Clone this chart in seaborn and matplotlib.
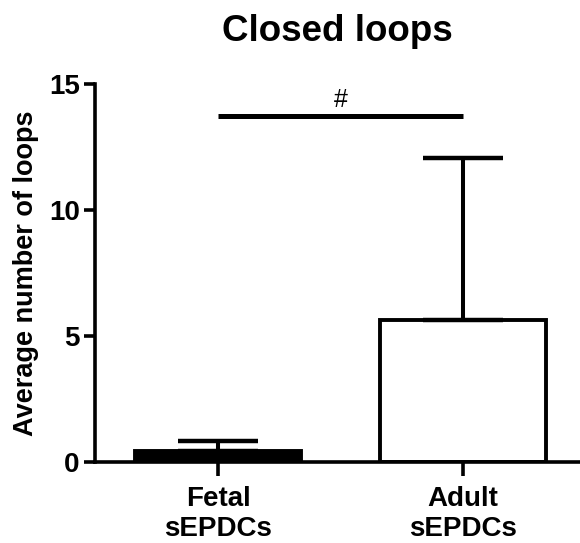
import matplotlib
matplotlib.use("Agg")
import matplotlib.pyplot as plt
import seaborn as sns
import pandas as pd

# values
groups = ["Fetal\nsEPDCs", "Adult\nsEPDCs"]
means = [0.42, 5.65]
errors = [0.4, 6.4]
bar_colors = ["black", "white"]
sig_height = 13.75
sig_label = "#"

df = pd.DataFrame({"group": groups, "mean": means})

sns.set_style("ticks", rc={"text.color": "black", "axes.labelcolor": "black",
                           "xtick.color": "black", "ytick.color": "black",
                           "axes.edgecolor": "black"})
plt.rcParams["font.family"] = ["Liberation Sans", "DejaVu Sans"]

fig = plt.figure(figsize=(5.8, 5.43), dpi=100)
ax = fig.add_axes([0.1638, 0.1492, 0.8362, 0.6961])

sns.barplot(data=df, x="group", y="mean", hue="group", palette=bar_colors,
            edgecolor="black", linewidth=2.8, width=0.68, errorbar=None,
            legend=False, ax=ax)

# upper-only error bars
ax.errorbar(range(len(groups)), means, yerr=[[0] * len(errors), errors],
            fmt="none", ecolor="black", elinewidth=2.9, capsize=29,
            capthick=3.2, zorder=3)

# significance bar
ax.plot([0, 1], [sig_height, sig_height], color="black", lw=3.6,
        solid_capstyle="butt")
ax.text(0.5, sig_height + 0.12, sig_label, ha="center", va="bottom",
        fontsize=18)

ax.set_xlim(-0.505, 1.48)
ax.set_ylim(0, 15)
ax.set_yticks([0, 5, 10, 15])
ax.set_xlabel("")
ax.set_ylabel("Average number of loops", fontsize=19.5, fontweight="bold",
              labelpad=7)
ax.set_title("Closed loops", fontsize=26.5, fontweight="bold", pad=31)

for lab in ax.get_xticklabels() + ax.get_yticklabels():
    lab.set_fontweight("bold")
    lab.set_fontsize(20)
ax.tick_params(axis="y", width=2.6, length=8, pad=3)
ax.tick_params(axis="x", width=2.6, length=10, pad=7)

for s in ["top", "right"]:
    ax.spines[s].set_visible(False)
for s in ["left", "bottom"]:
    ax.spines[s].set_linewidth(2.6)

fig.savefig("out.png", dpi=100)
